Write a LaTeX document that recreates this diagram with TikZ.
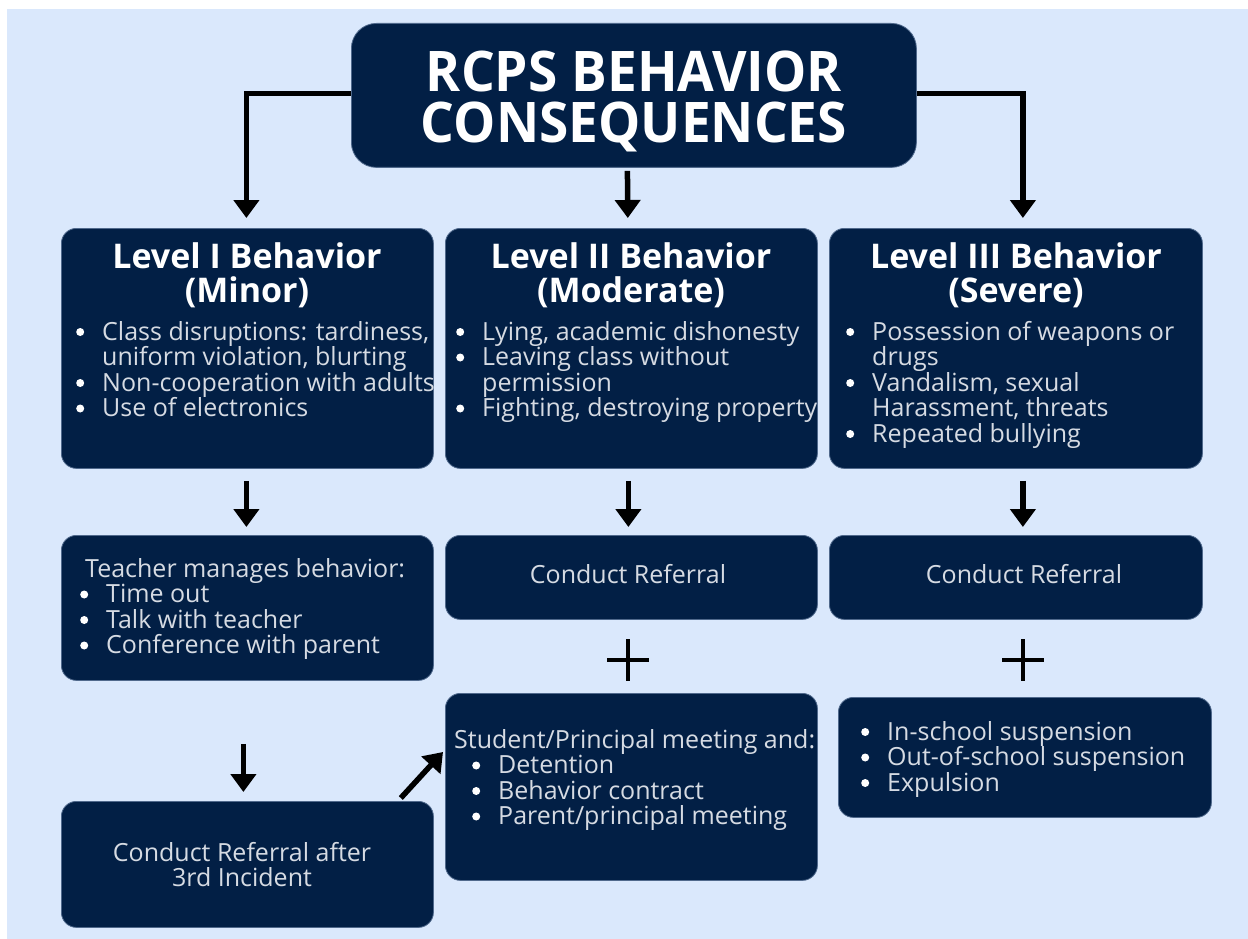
\documentclass[tikz,border=0pt]{standalone}
\usepackage{fontspec}
\setmainfont{Open Sans}
\usetikzlibrary{arrows.meta}
\definecolor{bg}{RGB}{218,232,252}
\definecolor{navy}{RGB}{2,31,69}
\definecolor{edge}{RGB}{80,105,140}
\definecolor{txt}{RGB}{214,219,227}
\newcommand{\bul}{\makebox[26pt][l]{\tikz[x=1pt,y=1pt,baseline=0pt]\fill[white] (4,8) circle (4);}}
\newcommand{\ind}{\hspace*{26pt}}
\newcommand{\R}[1]{\smash{#1}}
\begin{document}
\begin{tikzpicture}[x=1pt,y=-1pt,
  box/.style={fill=navy, draw=edge, line width=0.8pt, rounded corners=15pt, anchor=north west, inner sep=0pt},
  arr/.style={line width=5.5pt, -{Triangle[width=25pt,length=18pt]}},
  plus/.style={line width=4.5pt},
  body/.style={inner sep=0pt, text=txt, font=\fontsize{25}{25.5}\selectfont},
  head/.style={inner sep=0pt, text=white, anchor=base, font=\fontsize{34}{34}\selectfont\bfseries},
  ttl/.style={inner sep=0pt, text=white, anchor=base, font=\fontsize{56}{52}\selectfont\bfseries}]
\useasboundingbox (0,0) rectangle (1248,939);
\fill[white] (0,0) rectangle (1248,939);
\fill[bg] (7,9) rectangle (1248,939);

% boxes
\node[box, rounded corners=25pt, minimum width=565pt, minimum height=144pt] (title) at (351,23) {};
\node[box, minimum width=372pt, minimum height=240pt] (l1) at (61,228) {};
\node[box, minimum width=372pt, minimum height=240pt] (l2) at (445,228) {};
\node[box, minimum width=373pt, minimum height=240pt] (l3) at (829,228) {};
\node[box, minimum width=372pt, minimum height=145pt] (t1) at (61,535) {};
\node[box, minimum width=372pt, minimum height=84pt] (c2) at (445,535) {};
\node[box, minimum width=373pt, minimum height=84pt] (c3) at (829,535) {};
\node[box, minimum width=372pt, minimum height=187pt] (s2) at (445,693) {};
\node[box, minimum width=373pt, minimum height=120pt] (s3) at (838,697) {};
\node[box, minimum width=372pt, minimum height=126pt] (r1) at (61,801) {};

% title
\node[ttl] (tt1) at (634,92) {\scalebox{0.95}[1]{RCPS BEHAVIOR}};
\node[ttl] (tt2) at (634,143) {\scalebox{0.95}[1]{CONSEQUENCES}};

% headings
\node[head] (h1a) at (247,268) {Level I Behavior};
\node[head] (h1b) at (247,302) {(Minor)};
\node[head] (h2a) at (631,268) {Level II Behavior};
\node[head] (h2b) at (631,302) {(Moderate)};
\node[head] (h3a) at (1016,268) {Level III Behavior};
\node[head] (h3b) at (1016,302) {(Severe)};

% lists
\node[body, anchor=base west] (b1) at (76,340) {\begin{tabular}[t]{@{}l@{}}
\R{\bul Class disruptions: tardiness,}\\
\R{\ind uniform violation, blurting}\\
\R{\bul Non-cooperation with adults}\\
\R{\bul Use of electronics}\end{tabular}};
\node[body, anchor=base west] (b2) at (456,340) {\begin{tabular}[t]{@{}l@{}}
\R{\bul Lying, academic dishonesty}\\
\R{\bul Leaving class without}\\
\R{\ind permission}\\
\R{\bul Fighting, destroying property}\end{tabular}};
\node[body, anchor=base west] (b3) at (846,340) {\begin{tabular}[t]{@{}l@{}}
\R{\bul Possession of weapons or}\\
\R{\ind drugs}\\
\R{\bul Vandalism, sexual}\\
\R{\ind Harassment, threats}\\
\R{\bul Repeated bullying}\end{tabular}};
\node[body, anchor=base west] (bt) at (85,577) {\begin{tabular}[t]{@{}l@{}}
\R{Teacher manages behavior:}\\
\R{\hspace*{-5pt}\bul Time out}\\
\R{\hspace*{-5pt}\bul Talk with teacher}\\
\R{\hspace*{-5pt}\bul Conference with parent}\end{tabular}};
\node[body, anchor=base] (bc2) at (628,583) {Conduct Referral};
\node[body, anchor=base] (bc3) at (1024,583) {Conduct Referral};
\node[body, anchor=base west] (bs2) at (454,748) {\begin{tabular}[t]{@{}l@{}}
\R{Student/Principal meeting and:}\\
\R{\hspace*{18pt}\bul Detention}\\
\R{\hspace*{18pt}\bul Behavior contract}\\
\R{\hspace*{18pt}\bul Parent/principal meeting}\end{tabular}};
\node[body, anchor=base west] (bs3) at (861,740) {\begin{tabular}[t]{@{}l@{}}
\R{\bul In-school suspension}\\
\R{\bul Out-of-school suspension}\\
\R{\bul Expulsion}\end{tabular}};
\node[body, anchor=base] (br1) at (242,861) {\begin{tabular}[t]{@{}c@{}}
\R{Conduct Referral after}\\
\R{3rd Incident}\end{tabular}};

% connectors
\draw[arr, shorten >=10pt] ([yshift=2pt]title.west) -| ([xshift=-1pt]l1.north);
\draw[arr, shorten >=10pt] ([yshift=2pt]title.east) -| ([xshift=7pt]l3.north);
\draw[arr, shorten <=3pt, shorten >=10pt] ([xshift=-6.5pt]title.south) -- ([xshift=-3.5pt]l2.north);
\draw[arr, shorten <=12pt, shorten >=8pt] ([xshift=-1pt]l1.south) -- ([xshift=-1pt]t1.north);
\draw[arr, shorten <=12pt, shorten >=8pt] ([xshift=-3pt]l2.south) -- ([xshift=-3pt]c2.north);
\draw[arr, shorten <=12pt, shorten >=8pt] ([xshift=7pt]l3.south) -- ([xshift=7pt]c3.north);
\draw[arr, shorten <=63pt, shorten >=9pt] ([xshift=-4pt]t1.south) -- ([xshift=-4pt]r1.north);
\draw[arr] ([xshift=-33pt,yshift=3pt]r1.north east) -- ([xshift=-2pt,yshift=-59pt]s2.north west);

% plus signs
\draw[plus] (628,639) -- (628,681) (607,660) -- (649,660);
\draw[plus] (1023,639) -- (1023,681) (1002,660) -- (1044,660);
\end{tikzpicture}
\end{document}
